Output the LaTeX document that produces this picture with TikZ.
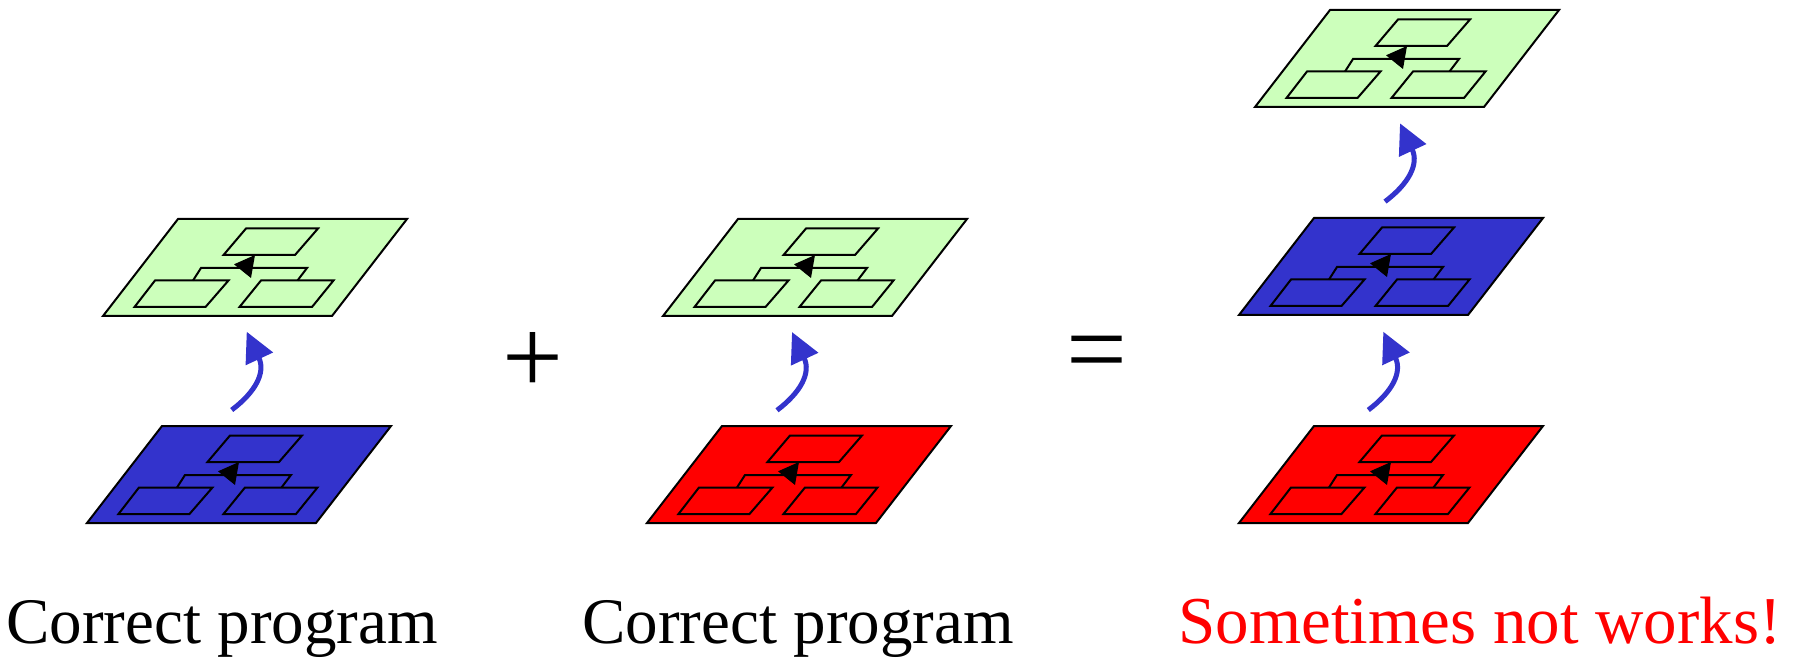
\documentclass[tikz,border=0pt]{standalone}
\usepackage{fontspec}
\setmainfont{Liberation Serif}
\usepackage{tikz}
\usetikzlibrary{arrows.meta}
\definecolor{layerblue}{RGB}{51,51,204}
\definecolor{layerred}{RGB}{255,0,0}
\definecolor{layergreen}{RGB}{204,255,187}
\tikzstyle{plate} = [draw, line width=1pt, line join=miter]
\tikzstyle{lift} = [draw, layerblue, line width=2.5pt,
    -{Triangle[length=15pt, width=14.5pt]}]

\begin{document}
\begin{tikzpicture}[x=0.5pt, y=0.5pt,
    caption/.style={anchor=base, inner sep=0pt, font=\fontsize{32.5}{39}\selectfont},
    sign/.style={inner sep=0pt, font=\fontsize{54}{60}\selectfont},
    hook/.style={out=37, in=-65, out distance=15pt, in distance=22.5pt},
    layer/.pic={
        % the plate
        \path[plate, pic actions] (0,0) -- (229,0) -- (304,97) -- (75,97) -- cycle;
        % little tree of boxes on top of it
        \path[plate, pic actions] (120.5,61) -- (192,61) -- (215,87.5) -- (143,87.5) -- cycle;
        \path[plate, pic actions] (31.5,9) -- (102.5,9) -- (125.5,35.5) -- (52,35.5) -- cycle;
        \path[plate, pic actions] (136.5,9) -- (209,9) -- (230.5,35.5) -- (158,35.5) -- cycle;
        \draw[line width=1pt] (90,35.5) -- (98,48) -- (204,48) -- (194.5,35.5);
        \fill[black] (131,51.7) -- (152,61) -- (148,38) -- cycle;
    }
    ]

    \useasboundingbox (0,0) rectangle (1801,660);

    % first program
    \pic[fill=layerblue] (baseA) at (87,137) {layer};
    \pic[fill=layergreen] (topA) at (103,344) {layer};
    % second program
    \pic[fill=layerred] (baseB) at (647,137) {layer};
    \pic[fill=layergreen] (topB) at (663,344) {layer};
    % both stacked
    \pic[fill=layerred] (baseC) at (1239,137) {layer};
    \pic[fill=layerblue] (midC) at (1239,345) {layer};
    \pic[fill=layergreen] (topC) at (1255,553) {layer};

    \coordinate (liftA) at (231.7,250);
    \coordinate (liftB) at (777,249.7);
    \coordinate (liftC) at (1368.3,250);
    \coordinate (liftD) at (1385,458.4);
    \draw[lift] (liftA) to[hook] ++(15,78.3);
    \draw[lift] (liftB) to[hook] ++(15,78.3);
    \draw[lift] (liftC) to[hook] ++(15,78.3);
    \draw[lift] (liftD) to[hook] ++(15,78.3);

    \node[sign] (plus) at (533,297) {+};
    \node[sign] (equals) at (1097,299) {=};

    \node[caption] (progA) at (222,16.7) {Correct program};
    \node[caption] (progB) at (798,16.7) {Correct program};
    \node[caption, red, font=\fontsize{33.5}{40}\selectfont] (result) at (1480,16.7) {Sometimes not works!};
\end{tikzpicture}
\end{document}
